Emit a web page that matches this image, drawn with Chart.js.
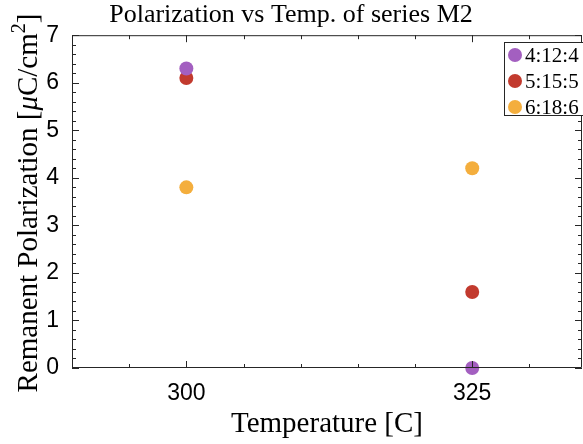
<!DOCTYPE html>
<html>
<head>
<meta charset="utf-8">
<script src="https://cdn.jsdelivr.net/npm/chart.js@4"></script>
<style>
html,body{margin:0;padding:0;background:#fff;}
#wrap{width:583px;height:444px;position:relative;}
</style>
</head>
<body>
<div id="wrap"><canvas id="c" width="583" height="444"></canvas></div>
<script>
const categories = [300, 325];
const seriesNames = ['4:12:4', '5:15:5', '6:18:6'];
const series1 = [6.3, 0];
const series2 = [6.1, 1.6];
const series3 = [3.8, 4.2];
const seriesColors = ['#A35FC0', '#C23A2E', '#F4AE3D'];
const xTickLabels = [300, 325];
const yTickLabels = [0, 1, 2, 3, 4, 5, 6, 7];

const titleText = 'Polarization vs Temp. of series M2';
const xTitleText = 'Temperature [C]';

const SERIF = '"Liberation Serif", "DejaVu Serif", serif';
const SANS = '"Liberation Sans", Arial, sans-serif';
const AXIS = '#262626';

const allSeries = [series1, series2, series3];
const datasets = allSeries.map((s, i) => ({
  label: seriesNames[i],
  data: categories.map((c, j) => ({x: c, y: s[j]})),
  backgroundColor: seriesColors[i],
  borderColor: seriesColors[i],
  pointRadius: 7,
  pointHoverRadius: 7,
  borderWidth: 0,
  clip: false
}));

const boxTicks = {
  id: 'boxTicks',
  afterDraw(chart) {
    const {ctx, chartArea: a, scales: {x, y}} = chart;
    ctx.save();
    ctx.strokeStyle = AXIS;
    ctx.lineWidth = 1;
    ctx.beginPath();
    ctx.rect(a.left + 0.5, a.top + 0.5, a.right - a.left - 1, a.bottom - a.top - 1);
    ctx.stroke();
    // x ticks
    for (let v = Math.ceil(x.min / 5) * 5; v <= x.max; v += 5) {
      const px = Math.round(x.getPixelForValue(v)) + 0.5;
      const major = xTickLabels.includes(v);
      const len = major ? 7 : 4;
      ctx.beginPath();
      ctx.moveTo(px, a.bottom); ctx.lineTo(px, a.bottom - len);
      ctx.moveTo(px, a.top); ctx.lineTo(px, a.top + len);
      ctx.stroke();
    }
    // y ticks
    for (let k = 0; k <= 35; k++) {
      const v = k * 0.2;
      const py = Math.round(y.getPixelForValue(v)) + 0.5;
      const major = k % 5 === 0;
      const len = major ? 7 : 4;
      ctx.beginPath();
      ctx.moveTo(a.left, py); ctx.lineTo(a.left + len, py);
      ctx.moveTo(a.right, py); ctx.lineTo(a.right - len, py);
      ctx.stroke();
    }
    // y axis title with italic mu and superscript
    ctx.fillStyle = '#000';
    ctx.textBaseline = 'alphabetic';
    const parts = [
      {t: 'Remanent Polarization [', f: '29px ' + SERIF, dy: 0},
      {t: 'μ', f: 'italic 29px ' + SERIF, dy: 0},
      {t: 'C/cm', f: '29px ' + SERIF, dy: 0},
      {t: '2', f: '20px ' + SERIF, dy: -12},
      {t: ']', f: '29px ' + SERIF, dy: 0}
    ];
    let total = 0;
    parts.forEach(p => { ctx.font = p.f; p.w = ctx.measureText(p.t).width; total += p.w; });
    ctx.translate(37, 203);
    ctx.rotate(-Math.PI / 2);
    let cx = -total / 2;
    parts.forEach(p => { ctx.font = p.f; ctx.fillText(p.t, cx, p.dy); cx += p.w; });
    ctx.restore();

    // legend box
    ctx.save();
    const lx = 504.5, ly = 42.5, lw = 90, lh = 73;
    ctx.fillStyle = '#fff';
    ctx.fillRect(lx, ly, lw, lh);
    ctx.strokeStyle = AXIS;
    ctx.strokeRect(lx, ly, lw, lh);
    ctx.font = '21px ' + SERIF;
    ctx.textBaseline = 'middle';
    chart.data.datasets.forEach((ds, i) => {
      const cy = 55 + i * 26;
      ctx.fillStyle = ds.backgroundColor;
      ctx.beginPath();
      ctx.arc(515, cy, 7, 0, Math.PI * 2);
      ctx.fill();
      ctx.fillStyle = '#000';
      ctx.fillText(ds.label, 525, cy + 1);
    });
    ctx.restore();
  }
};

new Chart(document.getElementById('c'), {
  type: 'scatter',
  data: {datasets},
  options: {
    responsive: false,
    animation: false,
    layout: {autoPadding: false, padding: {left: 0, right: 1, top: 0, bottom: 0}},
    plugins: {
      legend: {display: false},
      tooltip: {enabled: false},
      title: {
        display: true,
        text: titleText,
        color: '#000',
        font: {family: SERIF, size: 26, weight: 'normal'},
        padding: {top: 0, bottom: 4}
      }
    },
    scales: {
      x: {
        type: 'linear',
        min: 290,
        max: 334.6,
        afterBuildTicks(s) { s.ticks = xTickLabels.map(v => ({value: v})); },
        afterFit(s) { s.height = 76; s.paddingLeft = 0; s.paddingRight = 0; },
        grid: {display: false, drawTicks: false},
        border: {display: false},
        ticks: {color: '#000', font: {family: SANS, size: 23}, padding: 12, maxRotation: 0},
        title: {display: true, text: xTitleText, color: '#000', font: {family: SERIF, size: 29}, padding: {top: 0, bottom: 2}}
      },
      y: {
        type: 'linear',
        min: 0,
        max: 7,
        afterBuildTicks(s) { s.ticks = yTickLabels.map(v => ({value: v})); },
        afterFit(s) { s.width = 72; },
        grid: {display: false, drawTicks: false},
        border: {display: false},
        ticks: {color: '#000', font: {family: SANS, size: 23}, padding: 13}
      }
    }
  },
  plugins: [boxTicks]
});
</script>
</body>
</html>
